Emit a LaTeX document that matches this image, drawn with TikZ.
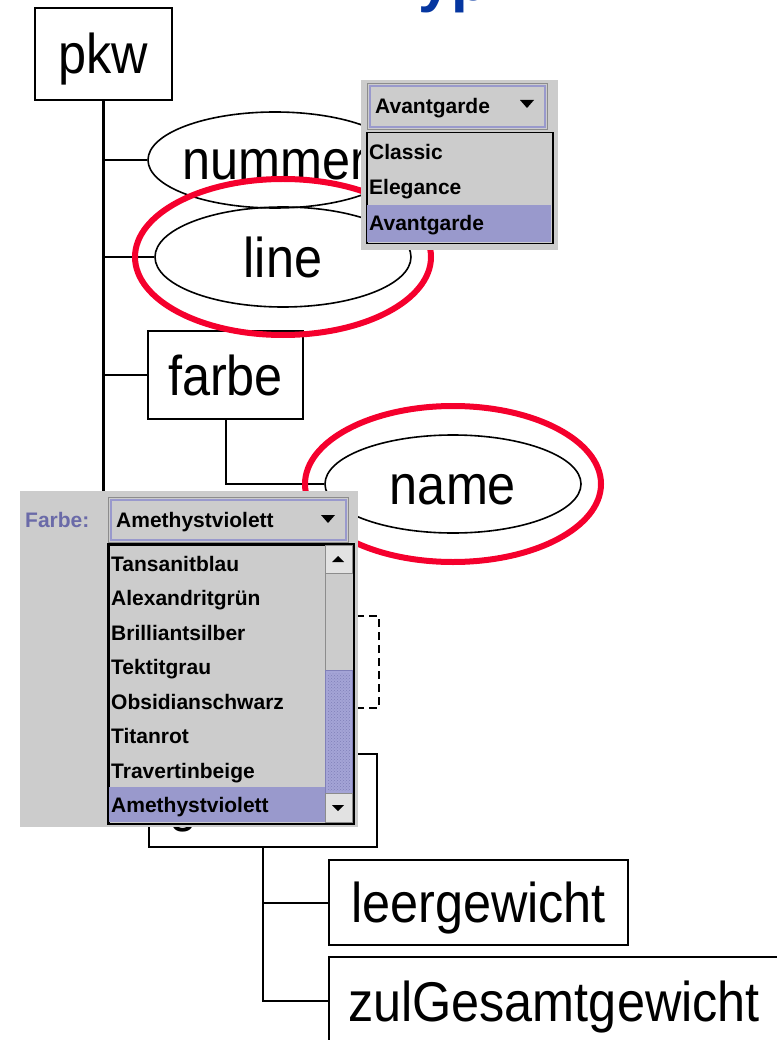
\documentclass[tikz,border=0pt]{standalone}
\usepackage{fontspec}
\usetikzlibrary{shapes.geometric,patterns}
\newfontfamily\treefont{Liberation Sans}[FakeStretch=0.9]
\newfontfamily\guifont{Liberation Sans}
\definecolor{guigray}{HTML}{CCCCCC}
\definecolor{guisel}{HTML}{9999CC}
\definecolor{guiedge}{HTML}{8C8C8C}
\definecolor{guilabel}{HTML}{6A6AA8}
\definecolor{thumbfill}{HTML}{A4A4D6}
\definecolor{thumbdot}{HTML}{8080B8}
\definecolor{btnfill}{HTML}{E2E2E2}
\definecolor{ringred}{HTML}{F5002D}
\definecolor{titleblue}{HTML}{0536A0}
\tikzset{
  treetext/.style={font=\treefont\fontsize{56}{60}\selectfont, text height=46pt, text depth=6pt},
  tbox/.style={treetext, draw, line width=2pt, rectangle, inner sep=0pt},
  tell/.style={treetext, draw, line width=1.6pt, ellipse, inner xsep=-12pt, inner ysep=0pt},
  conn/.style={line width=2pt},
  trunk/.style={line width=3pt},
  ring/.style={draw=ringred, line width=6pt},
  panel/.style={fill=guigray, inner sep=0pt, anchor=north west},
  combo/.style={fill=guigray, draw=guiedge, line width=1pt, inner sep=0pt, anchor=north west},
  listbox/.style={fill=guigray, draw=black, line width=1.5pt, inner sep=0pt, anchor=north west},
  guitext/.style={font=\guifont\bfseries\fontsize{21}{24}\selectfont, inner sep=0pt, anchor=base west},
  btn/.style={fill=btnfill, draw=guiedge, line width=0.8pt, inner sep=0pt, anchor=north west},
}
\begin{document}
\begin{tikzpicture}[x=1pt, y=-1pt]
\useasboundingbox (0,0) rectangle (776,1040);

% heading above the tree (only its lower part lies inside the page)
\node[font=\guifont\bfseries\fontsize{60}{60}\selectfont, text=titleblue,
      anchor=base west, inner sep=0pt] (title) at (418,0.5) {yp};

% ---- tree nodes ----
\node[tbox, minimum width=137, minimum height=92] (pkw) at (103.5,54) {pkw};
\node[tell, minimum width=254, minimum height=96] (nummer) at (275,160) {nummer};
\node[tell, minimum width=256, minimum height=100] (line) at (283,257) {line};
\node[tbox, minimum width=155, minimum height=88] (farbe) at (225.5,375) {farbe};
\node[tell, minimum width=256, minimum height=98] (name) at (453,484) {name};
\node[tbox, dashed, dash pattern=on 8pt off 5pt, minimum width=231, minimum height=92] (opt) at (263.5,662) {};
\node[tbox, minimum width=228, minimum height=93, text width=188pt, align=left] (gewicht) at (263,800.5) {gewicht};
\node[tbox, minimum width=299, minimum height=85] (leer) at (478.5,902.5) {leergewicht};
\node[tbox, minimum width=450, minimum height=88] (zul) at (554,1001) {zulGesamtgewicht};

% ---- connectors ----
\draw[trunk] (pkw.south) -- (pkw.south |- gewicht.west);
\draw[conn] (pkw.south |- gewicht.west) -- (gewicht.west);
\foreach \n in {nummer,line,farbe,opt}
  \draw[conn] (pkw.south |- \n.west) -- (\n.west);
\draw[conn] (farbe.south) |- (name.west);
\draw[conn] (gewicht.south) |- (zul.west);
\draw[conn] (gewicht.south |- leer.west) -- (leer.west);

% ---- highlight rings ----
\draw[ring] (line.center) ellipse [x radius=148, y radius=78];
\draw[ring] (name.center) ellipse [x radius=148, y radius=78];

% ---- line selector ----
\node[panel, minimum width=197, minimum height=170] (lpanel) at (361,80) {};
\node[combo, minimum width=180, minimum height=46] (lcombo) at (367,83) {};
\draw[guisel, line width=1.2pt] ([shift={(3,3)}]lcombo.north west) rectangle ([shift={(-3,-3)}]lcombo.south east);
\node[guitext] (lsel) at (375,114) {Avantgarde};
\fill (520,100) -- (534,100) -- (527,108) -- cycle;
\node[listbox, minimum width=186, minimum height=111] (llist) at (366,132) {};
\fill[guisel] (367,205) rectangle (551.2,242.2);
\node[guitext] (l1) at (369,160) {Classic};
\node[guitext] (l2) at (369,195) {Elegance};
\node[guitext] (l3) at (369,231) {Avantgarde};

% ---- colour selector ----
\node[panel, minimum width=338, minimum height=336] (fpanel) at (20,491) {};
\node[guitext, text=guilabel] (flabel) at (25,527) {Farbe:};
\node[combo, minimum width=240, minimum height=45] (fcombo) at (108,497) {};
\draw[guisel, line width=1.2pt] ([shift={(3,3)}]fcombo.north west) rectangle ([shift={(-3,-3)}]fcombo.south east);
\node[guitext] (fsel) at (116,527) {Amethystviolett};
\fill (321,515) -- (335,515) -- (328,523) -- cycle;
\node[listbox, minimum width=245, minimum height=279] (flist) at (108,544) {};
\fill[guisel] (108.8,787) rectangle (325,822.2);
\foreach \t [count=\i from 0] in {Tansanitblau,Alexandritgr\"un,Brilliantsilber,Tektitgrau,Obsidianschwarz,Titanrot,Travertinbeige,Amethystviolett}
  \node[guitext] (f\i) at (111,571+34.5*\i) {\t};
% scrollbar
\draw[guiedge, line width=0.8pt] (325,545) -- (325,822);
\node[btn, minimum width=27, minimum height=28] (up) at (325,545) {};
\fill (332,562) -- (344,562) -- (338,556) -- cycle;
\node[fill=thumbfill, draw=thumbdot, line width=0.8pt, inner sep=0pt, anchor=north west,
      minimum width=27, minimum height=123] (thumb) at (325,670) {};
\fill[pattern=crosshatch dots, pattern color=thumbdot] ([shift={(3,3)}]thumb.north west) rectangle ([shift={(-3,-3)}]thumb.south east);
\node[btn, minimum width=27, minimum height=29] (down) at (325,793) {};
\fill (332,805) -- (344,805) -- (338,811) -- cycle;
\draw[black, line width=1.5pt] (flist.north west) rectangle (flist.south east);
\end{tikzpicture}
\end{document}
